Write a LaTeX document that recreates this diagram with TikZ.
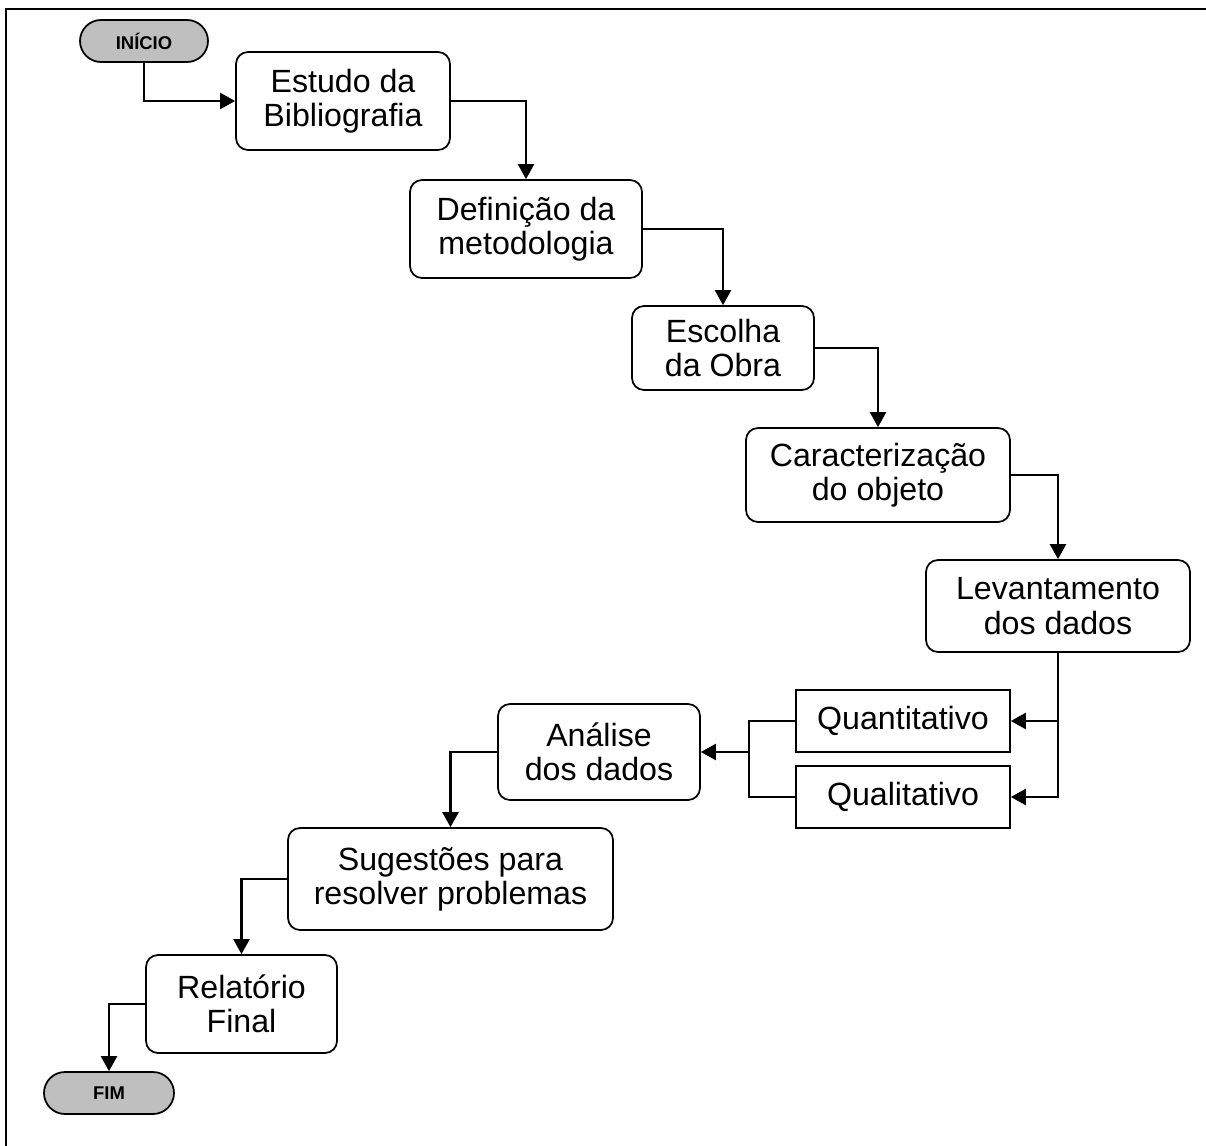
\documentclass[tikz,border=0pt]{standalone}
\usepackage{fontspec}
\setmainfont{Liberation Sans}
\usetikzlibrary{arrows.meta,positioning,calc}

\tikzset{
  etapa/.style={draw,rounded corners=0.24cm,line width=1pt,align=center,
    font=\fontsize{18.3}{19.5}\selectfont,inner sep=0pt},
  tipo/.style={draw,line width=1pt,align=center,
    font=\fontsize{18.3}{19.5}\selectfont,inner sep=0pt},
  terminal/.style={draw,fill=gray!50,rounded corners=0.42cm,line width=1pt,
    minimum height=0.84cm,font=\fontsize{10.5}{12}\selectfont\bfseries,inner sep=0pt},
  fluxo/.style={line width=1.4pt,-{Triangle[length=0.3cm,width=0.32cm]}},
}

\begin{document}
\begin{tikzpicture}
  \useasboundingbox (0,0) rectangle (24.12,-22.92);
  %
  % Frame
  \draw[line width=1.4pt] (24.12,-0.18) -- (0.12,-0.18) -- (0.12,-22.92);
  %
  % Start and end
  \node[terminal,minimum width=2.56cm] (inicio) at (2.88,-0.82) {INÍCIO};
  \node[terminal,minimum width=2.6cm] (fim) at (2.18,-21.86) {FIM};
  %
  % Steps
  \node[etapa,minimum width=4.28cm,minimum height=1.96cm] (estudo) at (6.86,-2.02)
    {Estudo da\\Bibliografia};
  \node[etapa,minimum width=4.64cm,minimum height=1.96cm] (definicao) at (10.52,-4.58)
    {Definição da\\metodologia};
  \node[etapa,minimum width=3.64cm,minimum height=1.68cm] (escolha) at (14.46,-6.96)
    {Escolha\\da Obra};
  \node[etapa,minimum width=5.28cm,minimum height=1.88cm] (caracter) at (17.56,-9.50)
    {Caracterização\\do objeto};
  \node[etapa,minimum width=5.28cm,minimum height=1.84cm] (levant) at (21.16,-12.12)
    {Levantamento\\dos dados};
  \node[tipo,minimum width=4.28cm,minimum height=1.24cm] (quanti) at (18.06,-14.42)
    {Quantitativo};
  \node[tipo,minimum width=4.28cm,minimum height=1.24cm] (quali) at (18.06,-15.94)
    {Qualitativo};
  \node[etapa,minimum width=4.04cm,minimum height=1.92cm] (analise) at (11.98,-15.04)
    {Análise\\dos dados};
  \node[etapa,minimum width=6.5cm,minimum height=2.04cm] (sugest) at (9.01,-17.58)
    {Sugestões para\\resolver problemas};
  \node[etapa,minimum width=3.82cm,minimum height=1.96cm] (relat) at (4.83,-20.08)
    {Relatório\\Final};
  %
  % Connectors
  \draw[fluxo] (inicio.south) |- (estudo.west);
  \draw[fluxo] (estudo.east) -| (definicao.north);
  \draw[fluxo] (definicao.east) -| (escolha.north);
  \draw[fluxo] (escolha.east) -| (caracter.north);
  \draw[fluxo] (caracter.east) -| (levant.north);
  \draw[fluxo] (levant.south) |- (quali.east);
  \draw[fluxo] (levant.south |- quanti.east) -- (quanti.east);
  \coordinate[right=0.96cm of analise.east] (juncao);
  \draw[line width=1.4pt] (quanti.west) -| (juncao) |- (quali.west);
  \draw[fluxo] (juncao) -- (analise.east);
  \draw[fluxo] (analise.west) -| (sugest.north);
  \draw[fluxo] (sugest.west) -| (relat.north);
  \draw[fluxo] (relat.west) -| (fim.north);
  %
\end{tikzpicture}
\end{document}
